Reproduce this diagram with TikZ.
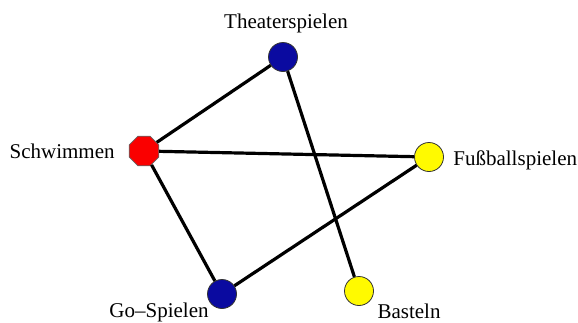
\documentclass[tikz,border=0pt]{standalone}
\usepackage{fontspec}
\setmainfont{Liberation Serif}
\usepackage{tikz}
\usetikzlibrary{positioning,shapes.geometric}
\definecolor{darkblue}{RGB}{10,10,160}
\definecolor{brightred}{RGB}{250,0,0}
\definecolor{brightyellow}{RGB}{255,250,0}

\begin{document}
\begin{tikzpicture}[
  x=0.5pt, y=-0.5pt,
  every node/.style={font=\fontsize{10.5}{12}\selectfont},
  vertex/.style={circle, draw=black!80, line width=0.4pt, minimum size=14.5pt, inner sep=0pt},
  octo/.style={regular polygon, regular polygon sides=8, draw=black!60, line width=0.4pt,
               minimum size=16pt, inner sep=0pt},
  lbl/.style={inner sep=0pt},
  edge/.style={line width=1.6pt, black}
]
  \useasboundingbox (0,0) rectangle (578,322);

  \node[vertex, fill=darkblue] (theater) at (283,57) {};
  \node[octo, fill=brightred] (schwimmen) at (144,151) {};
  \node[vertex, fill=brightyellow] (fussball) at (429,157) {};
  \node[vertex, fill=darkblue] (go) at (222,294) {};
  \node[vertex, fill=brightyellow] (basteln) at (359,291) {};

  \node[lbl] (theatertxt) at (286,23) {Theaterspielen};
  \node[lbl, anchor=east] (schwimmentxt) at (115,151) {Schwimmen};
  \node[lbl, anchor=west] (fussballtxt) at (453,160) {Fußballspielen};
  \node[lbl] (gotxt) at (159,312) {Go--Spielen};
  \node[lbl] (basteltxt) at (409,311) {Basteln};

  \draw[edge] (schwimmen) -- (theater);
  \draw[edge] (schwimmen) -- (fussball);
  \draw[edge] (schwimmen) -- (go);
  \draw[edge] (go) -- (fussball);
  \draw[edge] (theater) -- (basteln);
\end{tikzpicture}
\end{document}
